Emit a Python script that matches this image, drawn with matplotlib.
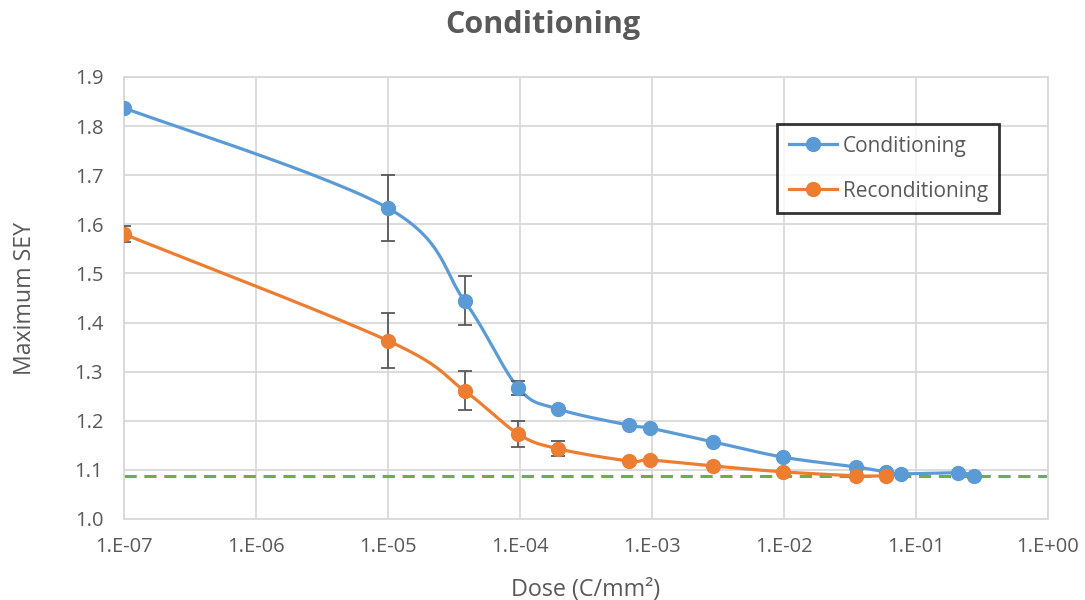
import numpy as np
import matplotlib
matplotlib.use("Agg")
import matplotlib.pyplot as plt
from matplotlib.ticker import FixedLocator, FixedFormatter

# ---- data ----
cond_dose = [1e-7, 1e-5, 3.8e-5, 9.7e-5, 1.94e-4, 6.7e-4, 9.7e-4, 2.9e-3, 9.8e-3, 0.035, 0.059, 0.077, 0.208, 0.275]
cond_sey = [1.837, 1.633, 1.444, 1.267, 1.224, 1.191, 1.185, 1.157, 1.126, 1.106, 1.096, 1.092, 1.094, 1.088]
cond_err = [0, 0.067, 0.05, 0.015, 0, 0, 0, 0, 0, 0, 0, 0, 0, 0]

recond_dose = [1e-7, 1e-5, 3.8e-5, 9.7e-5, 1.94e-4, 6.7e-4, 9.7e-4, 2.9e-3, 9.8e-3, 0.035, 0.059]
recond_sey = [1.580, 1.363, 1.261, 1.173, 1.143, 1.118, 1.120, 1.108, 1.096, 1.088, 1.088]
recond_err = [0.016, 0.056, 0.04, 0.026, 0.015, 0, 0, 0, 0, 0, 0]

baseline = 1.088
xticks = [1e-7, 1e-6, 1e-5, 1e-4, 1e-3, 1e-2, 1e-1, 1e0]
xticklabels = ["1.E-07", "1.E-06", "1.E-05", "1.E-04", "1.E-03", "1.E-02", "1.E-01", "1.E+00"]
yticks = [1.0, 1.1, 1.2, 1.3, 1.4, 1.5, 1.6, 1.7, 1.8, 1.9]

BLUE = "#5B9BD5"
ORANGE = "#ED7D31"
GREEN = "#70AD47"
GRID = "#D9D9D9"
TXT = "#595959"

plt.rcParams['font.family'] = ['Open Sans', 'DejaVu Sans']

fig = plt.figure(figsize=(10.85, 6.0), dpi=100)
ax = fig.add_axes([0.1143, 0.135, 0.8516, 0.7367])

XMIN, XMAX, YMIN, YMAX = 1e-7, 1.0, 1.0, 1.9
W_PX, H_PX = 924.0, 442.0


def smooth(xs, ys, n=30):
    # Excel-like smoothed line via Catmull-Rom Bezier in screen-proportional space
    u = (np.log10(xs) - np.log10(XMIN)) / (np.log10(XMAX) - np.log10(XMIN)) * W_PX
    v = (np.asarray(ys) - YMIN) / (YMAX - YMIN) * H_PX
    P = np.column_stack([u, v])
    out = [P[0]]
    t = np.linspace(0, 1, n)[1:]
    for i in range(len(P) - 1):
        p0 = P[i - 1] if i > 0 else P[i]
        p1 = P[i]
        p2 = P[i + 1]
        p3 = P[i + 2] if i + 2 < len(P) else P[i + 1]
        c1 = p1 + (p2 - p0) / 6.0
        c2 = p2 - (p3 - p1) / 6.0
        for tt in t:
            b = ((1 - tt) ** 3) * p1 + 3 * ((1 - tt) ** 2) * tt * c1 + 3 * (1 - tt) * tt ** 2 * c2 + tt ** 3 * p2
            out.append(b)
    out = np.array(out)
    xo = 10 ** (out[:, 0] / W_PX * (np.log10(XMAX) - np.log10(XMIN)) + np.log10(XMIN))
    yo = out[:, 1] / H_PX * (YMAX - YMIN) + YMIN
    return xo, yo


ax.set_xscale('log')
ax.set_xlim(XMIN, XMAX)
ax.set_ylim(YMIN, YMAX)

ax.axhline(baseline, color=GREEN, lw=2.2, ls=(0, (4, 2.5)), zorder=2)

for dose, sey, err, col, lab in [(cond_dose, cond_sey, cond_err, BLUE, "Conditioning"),
                                 (recond_dose, recond_sey, recond_err, ORANGE, "Reconditioning")]:
    xs, ys = smooth(dose, sey)
    ax.plot(xs, ys, color=col, lw=2.3, zorder=3)
    idx = [i for i, e in enumerate(err) if e > 0]
    ax.errorbar([dose[i] for i in idx], [sey[i] for i in idx], yerr=[err[i] for i in idx],
                fmt='none', ecolor=TXT, elinewidth=1.3, capsize=5, capthick=1.3, zorder=4)
    ax.plot(dose, sey, 'o', color=col, ms=10, zorder=5)
    ax.plot([], [], '-o', color=col, lw=2.3, ms=10, label=lab)

ax.xaxis.set_major_locator(FixedLocator(xticks))
ax.xaxis.set_major_formatter(FixedFormatter(xticklabels))
ax.xaxis.set_minor_locator(FixedLocator([]))
ax.set_yticks(yticks)
ax.set_yticklabels([f"{v:.1f}" for v in yticks])

ax.grid(True, color=GRID, lw=1.3, zorder=0)
ax.set_axisbelow(True)
for s in ax.spines.values():
    s.set_color(GRID)
    s.set_linewidth(1.3)
ax.tick_params(axis='both', length=0, labelsize=14.5, colors=TXT)
ax.tick_params(axis='x', pad=13)
ax.tick_params(axis='y', pad=15)

ax.set_xlabel("Dose (C/mm²)", fontsize=16.8, color=TXT, labelpad=15)
ax.set_ylabel("Maximum SEY", fontsize=16.7, color=TXT, labelpad=27)
fig.suptitle("Conditioning", fontsize=22, fontweight='bold', color=TXT, y=0.983)

leg = ax.legend(loc='upper left', bbox_to_anchor=(0.707, 0.893), frameon=True, fancybox=False,
                fontsize=15, labelcolor=TXT, handlelength=2.3, borderpad=0.55, labelspacing=1.15,
                handletextpad=0.3, borderaxespad=0)
leg.get_frame().set_edgecolor('black')
leg.get_frame().set_linewidth(2)

fig.savefig("out.png", dpi=100)
